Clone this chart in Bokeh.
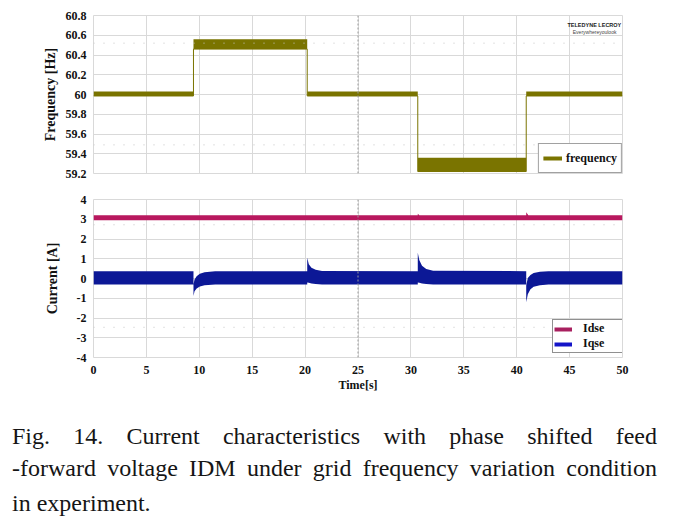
from bokeh.plotting import figure
from bokeh.models import (Range1d, FixedTicker, Legend, LegendItem, Span, Label, Div)
from bokeh.layouts import column
from bokeh.embed import file_html
from bokeh.resources import INLINE

NAN = float("nan")

# ---------------- data ----------------
time_ticks = [0, 5, 10, 15, 20, 25, 30, 35, 40, 45, 50]
time_tick_labels = ["0", "5", "10", "15", "20", "25", "30", "35", "40", "45", "50"]

freq_ticks = [59.2, 59.4, 59.6, 59.8, 60.0, 60.2, 60.4, 60.6, 60.8]
freq_tick_labels = ["59.2", "59.4", "59.6", "59.8", "60", "60.2", "60.4", "60.6", "60.8"]

current_ticks = [-4, -3, -2, -1, 0, 1, 2, 3, 4]
current_tick_labels = ["-4", "-3", "-2", "-1", "0", "1", "2", "3", "4"]

# frequency envelope (noisy band: upper / lower edge)
freq_t  = [0.0, 9.45, 9.45, 20.2, 20.2, 30.65, 30.65, 40.9, 40.9, 50.0]
freq_hi = [60.03, 60.03, 60.56, 60.56, 60.03, 60.03, 59.36, 59.36, 60.03, 60.03]
freq_lo = [59.985, 59.985, 60.46, 60.46, 59.985, 59.985, 59.22, 59.22, 59.985, 59.985]

# Idse envelope
idse_t  = [0.0, 30.65, 30.65, 30.8, 40.9, 40.9, 41.1, 50.0]
idse_hi = [3.2, 3.2, 3.28, 3.2, 3.2, 3.36, 3.2, 3.2]
idse_lo = [2.95, 2.95, 2.95, 2.95, 2.95, 2.95, 2.95, 2.95]

# Iqse envelope with transients at each frequency step
iqse_t  = [0.0, 9.45, 9.45, 9.55, 9.75, 10.05, 10.5, 11.5,
           20.2, 20.2, 20.35, 20.6, 21.0, 21.6,
           30.65, 30.65, 30.8, 31.05, 31.45, 32.1,
           40.9, 40.9, 41.05, 41.3, 41.6, 42.2, 43.0, 50.0]
iqse_hi = [0.37, 0.37, -0.30, -0.05, 0.12, 0.24, 0.32, 0.37,
           0.37, 1.05, 0.72, 0.54, 0.44, 0.38,
           0.37, 1.30, 0.92, 0.65, 0.48, 0.39,
           0.37, -0.35, 0.02, 0.18, 0.28, 0.34, 0.37, 0.37]
iqse_lo = [-0.30, -0.30, -0.88, -0.65, -0.50, -0.40, -0.34, -0.30,
           -0.30, -0.20, -0.22, -0.25, -0.28, -0.30,
           -0.30, -0.20, -0.22, -0.25, -0.28, -0.30,
           -0.30, -1.20, -0.80, -0.55, -0.42, -0.34, -0.30, -0.30]

# faint oscilloscope graticule levels
freq_dotted = [60.52, 59.49]
current_dotted = [2.72, -2.47]
center_time = [25]

caption_lines = ["Fig. 14. Current characteristics with phase shifted feed",
                 "-forward voltage IDM under grid frequency variation condition",
                 "in experiment."]

# ---------------- styling ----------------
FREQ_COLOR = "#7a7400"
IDSE_COLOR = "#b8185e"
IQSE_COLOR = "#0c1896"
GRID = "#d9d9d9"
SERIF = "Liberation Serif"


def style(p, yticks, ylabels, ylabel, standoff):
    p.yaxis.ticker = FixedTicker(ticks=yticks)
    p.yaxis.major_label_overrides = {t: l for t, l in zip(yticks, ylabels)}
    p.xaxis.ticker = FixedTicker(ticks=time_ticks)
    p.xaxis.major_label_overrides = {t: l for t, l in zip(time_ticks, time_tick_labels)}
    for ax in (p.xaxis[0], p.yaxis[0]):
        ax.axis_line_color = None
        ax.major_tick_line_color = None
        ax.minor_tick_line_color = None
        ax.major_label_text_font = SERIF
        ax.major_label_text_font_style = "bold"
        ax.major_label_text_font_size = "12px"
        ax.major_label_text_color = "#111111"
        ax.axis_label_text_font = SERIF
        ax.axis_label_text_font_style = "bold"
        ax.axis_label_text_color = "#111111"
    p.yaxis.axis_label = ylabel
    p.yaxis.axis_label_text_font_size = "14px"
    p.yaxis.axis_label_standoff = standoff
    p.yaxis.major_label_standoff = 1
    p.xgrid.grid_line_color = GRID
    p.ygrid.grid_line_color = GRID
    p.outline_line_color = GRID
    p.background_fill_color = "white"
    p.border_fill_color = "white"
    for t in center_time:
        p.add_layout(Span(location=t, dimension="height", line_color="#9a9a9a",
                          line_dash="2 2", line_width=1))


x_range = Range1d(0, 50)

# ---------------- top: frequency ----------------
p1 = figure(width=668, height=186, x_range=x_range, y_range=Range1d(59.2, 60.8),
            output_backend="svg", toolbar_location=None,
            min_border_left=93, min_border_right=46, min_border_top=15, min_border_bottom=13)
style(p1, freq_ticks, freq_tick_labels, "Frequency [Hz]", 5)
p1.xaxis.visible = False
for lv in freq_dotted:
    p1.add_layout(Span(location=lv, dimension="width", line_color="#c4c4c4",
                       line_dash="1 9", line_width=1))

p1.varea(x=freq_t, y1=freq_lo, y2=freq_hi, fill_color=FREQ_COLOR)
p1.line(x=freq_t, y=freq_lo, line_color=FREQ_COLOR, line_width=1)
leg_f = p1.line(x=[NAN], y=[NAN], line_color=FREQ_COLOR, line_width=4)

lg1 = Legend(items=[LegendItem(label="frequency", renderers=[leg_f])],
             location="bottom_right", margin=0, padding=4, spacing=0,
             glyph_width=19, label_standoff=4,
             label_text_font=SERIF, label_text_font_style="bold",
             label_text_font_size="12px", label_text_color="#111111",
             border_line_color="#444444", border_line_width=1,
             background_fill_alpha=1.0)
p1.add_layout(lg1)

p1.add_layout(Label(x=44.8, y=60.70, text="TELEDYNE LECROY", text_font="Liberation Sans",
                    text_font_style="bold", text_font_size="5.5px", text_color="#222222",
                    text_baseline="middle"))
p1.add_layout(Label(x=45.3, y=60.635, text="Everywhereyoulook", text_font="Liberation Sans",
                    text_font_size="5px", text_color="#444444", text_baseline="middle"))

# ---------------- bottom: currents ----------------
p2 = figure(width=668, height=209, x_range=x_range, y_range=Range1d(-4, 4),
            output_backend="svg", toolbar_location=None,
            min_border_left=93, min_border_right=46, min_border_top=13, min_border_bottom=38)
style(p2, current_ticks, current_tick_labels, "Current [A]", 14)
p2.xaxis.axis_label = "Time[s]"
p2.xaxis.axis_label_text_font_size = "12px"
p2.xaxis.major_label_standoff = 2
p2.xaxis.axis_label_standoff = 1
for lv in current_dotted:
    p2.add_layout(Span(location=lv, dimension="width", line_color="#c4c4c4",
                       line_dash="1 9", line_width=1))

p2.varea(x=idse_t, y1=idse_lo, y2=idse_hi, fill_color=IDSE_COLOR)
p2.varea(x=iqse_t, y1=iqse_lo, y2=iqse_hi, fill_color=IQSE_COLOR)
leg_d = p2.line(x=[NAN], y=[NAN], line_color="#a8205f", line_width=4)
leg_q = p2.line(x=[NAN], y=[NAN], line_color="#1414c8", line_width=4)

lg2 = Legend(items=[LegendItem(label="Idse", renderers=[leg_d]),
                    LegendItem(label="Iqse", renderers=[leg_q])],
             location=(459, 4), margin=0, padding=1, spacing=0,
             glyph_width=18, glyph_height=12, label_height=12, label_width=38,
             label_standoff=11,
             label_text_font=SERIF, label_text_font_style="bold",
             label_text_font_size="12px", label_text_color="#111111",
             border_line_color="#222222", border_line_width=1,
             background_fill_alpha=1.0)
p2.add_layout(lg2)

# ---------------- caption ----------------
base = "font-family:'Liberation Serif',serif;font-size:24px;color:#151515;"
just = "text-align:justify;text-align-last:justify;"
html = ('<div style="width:645px;' + base + '">'
        + '<div style="height:32px;line-height:32px;' + just + '">' + caption_lines[0] + '</div>'
        + '<div style="height:32px;line-height:32px;' + just + '">' + caption_lines[1] + '</div>'
        + '<div style="height:32px;line-height:32px;margin-top:3px;text-align:left;">' + caption_lines[2] + '</div>'
        + '</div>')
cap = Div(text=html, width=645, height=99, margin=(25, 0, 0, 12))

layout = column(p1, p2, cap, spacing=0)

with open("out.html", "w") as f:
    f.write(file_html(layout, INLINE))
